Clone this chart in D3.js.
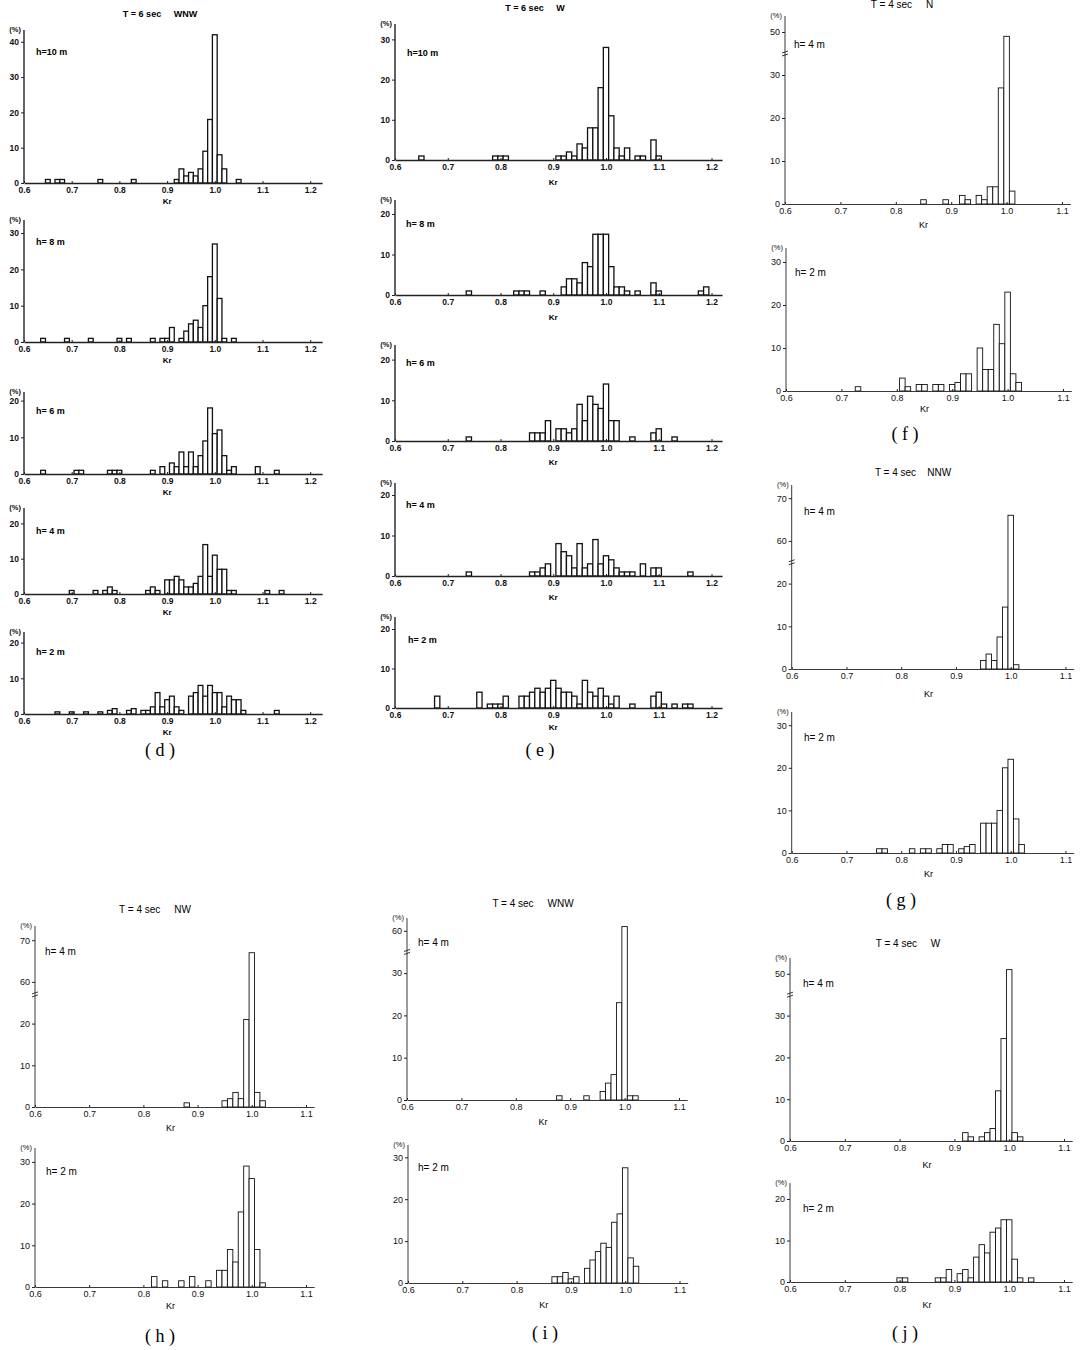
<!DOCTYPE html>
<html>
<head>
<meta charset="utf-8">
<script src="https://cdn.jsdelivr.net/npm/d3@7"></script>
<style>
  body { margin: 0; background: #fff; }
  svg { display: block; font-family: "Liberation Sans", Arial, sans-serif; }
</style>
</head>
<body>
<svg id="chart"></svg>
<script>
const WIDTH = 1082;
const HEIGHT = 1350;
const BIN = 0.01;

// (d) T = 6 sec WNW : [Kr bin centre, %]
const dH10 = [[0.65,1],[0.67,1],[0.68,1],[0.76,1],[0.83,1],[0.92,1],[0.93,4],[0.94,2],[0.95,3],[0.96,2],[0.97,4],[0.98,9],[0.99,18],[1.00,42],[1.01,8],[1.02,4],[1.05,1]];
const dH8 = [[0.64,1],[0.69,1],[0.74,1],[0.80,1],[0.82,1],[0.87,1],[0.89,1],[0.90,1],[0.91,4],[0.93,1],[0.94,3],[0.95,5],[0.96,6],[0.97,4],[0.98,10],[0.99,18],[1.00,27],[1.01,12],[1.02,1],[1.04,1]];
const dH6 = [[0.64,1],[0.71,1],[0.72,1],[0.78,1],[0.79,1],[0.80,1],[0.87,1],[0.89,2],[0.91,3],[0.92,2],[0.93,6],[0.94,2],[0.95,6],[0.96,2],[0.97,5],[0.98,9],[0.99,18],[1.00,11],[1.01,12],[1.02,5],[1.03,1],[1.04,2],[1.09,2],[1.13,1]];
const dH4 = [[0.70,1],[0.75,1],[0.77,1],[0.78,2],[0.79,1],[0.86,1],[0.87,2],[0.88,1],[0.90,4],[0.91,4],[0.92,5],[0.93,4],[0.94,2],[0.95,2],[0.96,3],[0.97,5],[0.98,14],[0.99,5],[1.00,11],[1.01,7],[1.02,7],[1.03,1],[1.04,1],[1.11,1],[1.14,1]];
const dH2 = [[0.67,0.6],[0.70,0.6],[0.73,0.6],[0.76,0.6],[0.78,1],[0.79,1.5],[0.82,1],[0.83,1.5],[0.85,1],[0.86,1],[0.87,2],[0.88,6],[0.89,2],[0.90,4],[0.91,5],[0.92,2],[0.93,1],[0.95,5],[0.96,6],[0.97,8],[0.98,5],[0.99,8],[1.00,6],[1.01,6],[1.02,2],[1.03,5],[1.04,4],[1.05,4],[1.06,1],[1.13,1]];

// (e) T = 6 sec W
const eH10 = [[0.65,1],[0.79,1],[0.80,1],[0.81,1],[0.91,1],[0.92,1],[0.93,2],[0.94,1],[0.95,4],[0.96,3],[0.97,8],[0.98,8],[0.99,18],[1.00,28],[1.01,11],[1.02,3],[1.03,1],[1.04,3],[1.06,1],[1.07,1],[1.09,5],[1.10,1]];
const eH8 = [[0.74,1],[0.83,1],[0.84,1],[0.85,1],[0.88,1],[0.92,2],[0.93,4],[0.94,4],[0.95,3],[0.96,8],[0.97,7],[0.98,15],[0.99,15],[1.00,15],[1.01,7],[1.02,2],[1.03,2],[1.04,1],[1.06,1],[1.09,3],[1.10,1],[1.18,1],[1.19,2]];
const eH6 = [[0.74,1],[0.86,2],[0.87,2],[0.88,2],[0.89,5],[0.91,3],[0.92,3],[0.93,2],[0.94,3],[0.95,9],[0.96,5],[0.97,11],[0.98,9],[0.99,8],[1.00,14],[1.01,5],[1.02,5],[1.05,1],[1.09,2],[1.10,3],[1.13,1]];
const eH4 = [[0.74,1],[0.86,1],[0.87,1],[0.88,2],[0.89,3],[0.91,8],[0.92,6],[0.93,5],[0.94,2],[0.95,8],[0.96,2],[0.97,3],[0.98,9],[0.99,3],[1.00,5],[1.01,4],[1.02,2],[1.03,1],[1.04,1],[1.05,1],[1.07,3],[1.09,2],[1.10,2],[1.16,1]];
const eH2 = [[0.68,3],[0.76,4],[0.78,1],[0.79,1],[0.80,1],[0.81,3],[0.84,3],[0.85,3],[0.86,4],[0.87,5],[0.88,4],[0.89,5],[0.90,7],[0.91,5],[0.92,4],[0.93,4],[0.94,3],[0.95,1],[0.96,7],[0.97,4],[0.98,3],[0.99,5],[1.00,3],[1.01,1],[1.02,3],[1.05,1],[1.09,3],[1.10,4],[1.11,1],[1.13,1],[1.15,1],[1.16,1]];

// (f) T = 4 sec N
const fH4 = [[0.85,1],[0.89,1],[0.92,2],[0.93,1],[0.95,2],[0.96,1],[0.97,4],[0.98,4],[0.99,27],[1.00,49],[1.01,3]];
const fH2 = [[0.73,1],[0.81,3],[0.82,1],[0.84,1.5],[0.85,1.5],[0.87,1.5],[0.88,1.5],[0.90,1.5],[0.91,2],[0.92,4],[0.93,4],[0.95,10],[0.96,5],[0.97,5],[0.98,15.5],[0.99,11],[1.00,23],[1.01,4],[1.02,2]];

// (g) T = 4 sec NNW
const gH4 = [[0.95,2],[0.96,3.5],[0.97,2],[0.98,7.5],[0.99,14.5],[1.00,66],[1.01,1]];
const gH2 = [[0.76,1],[0.77,1],[0.82,1],[0.84,1],[0.85,1],[0.87,1],[0.88,2],[0.89,2],[0.91,1],[0.92,1.5],[0.93,2],[0.95,7],[0.96,7],[0.97,7],[0.98,10],[0.99,20],[1.00,22],[1.01,8],[1.02,2]];

// (h) T = 4 sec NW
const hH4 = [[0.88,1],[0.95,1.5],[0.96,2],[0.97,3.5],[0.98,2],[0.99,21],[1.00,67],[1.01,3.5],[1.02,1.5]];
const hH2 = [[0.82,2.5],[0.84,1.5],[0.87,1.5],[0.89,2.5],[0.92,1.5],[0.94,4],[0.95,4],[0.96,9],[0.97,6],[0.98,18],[0.99,29],[1.00,26],[1.01,9],[1.02,1]];

// (i) T = 4 sec WNW
const iH4 = [[0.88,1],[0.93,1],[0.96,2],[0.97,4],[0.98,6],[0.99,23],[1.00,61],[1.01,1],[1.02,1]];
const iH2 = [[0.87,1.5],[0.88,1.5],[0.89,2.5],[0.90,1],[0.91,1.5],[0.93,3.5],[0.94,5.5],[0.95,7.5],[0.96,9.5],[0.97,8.5],[0.98,14.5],[0.99,16.5],[1.00,27.5],[1.01,6],[1.02,4]];

// (j) T = 4 sec W
const jH4 = [[0.92,2],[0.93,1],[0.95,1],[0.96,2],[0.97,3],[0.98,12],[0.99,24.5],[1.00,51],[1.01,2],[1.02,1]];
const jH2 = [[0.80,1],[0.81,1],[0.87,1],[0.88,1],[0.89,3],[0.91,2],[0.92,3],[0.93,1],[0.94,6],[0.95,9],[0.96,7],[0.97,12],[0.98,13],[0.99,15],[1.00,15],[1.01,5.5],[1.02,1],[1.04,1]];

const ticksLong = [0.6, 0.7, 0.8, 0.9, 1.0, 1.1, 1.2];
const ticksShort = [0.6, 0.7, 0.8, 0.9, 1.0, 1.1];

const titles = [
  { text: "T = 6 sec     WNW", x: 160, y: 15, bold: true },
  { text: "T = 6 sec     W", x: 535, y: 9, bold: true },
  { text: "T = 4 sec     N", x: 902, y: 5 },
  { text: "T = 4 sec    NNW", x: 913, y: 473 },
  { text: "T = 4 sec     NW", x: 155, y: 910 },
  { text: "T = 4 sec     WNW", x: 533, y: 904 },
  { text: "T = 4 sec     W", x: 908, y: 944 }
];

const figLabels = [
  { text: "( d )", x: 160, y: 752 },
  { text: "( e )", x: 540, y: 752 },
  { text: "( f )", x: 905, y: 436 },
  { text: "( g )", x: 901, y: 902 },
  { text: "( h )", x: 160, y: 1338 },
  { text: "( i )", x: 545, y: 1335 },
  { text: "( j )", x: 905, y: 1335 }
];

// layout of each small histogram (pixel placement only)
const plots = [
  { data: dH10, h: "h=10 m", x0: 24, k: 47.7, end: 1.225, xt: ticksLong, base: 183, per10: 35.3, top: 30, yt: [0,10,20,30,40], hx: 36, hy: 53, kr: 21, bold: true },
  { data: dH8, h: "h= 8 m", x0: 24, k: 47.7, end: 1.225, xt: ticksLong, base: 342, per10: 36.3, top: 220, yt: [0,10,20,30], hx: 36, hy: 243, kr: 21, bold: true },
  { data: dH6, h: "h= 6 m", x0: 24, k: 47.7, end: 1.225, xt: ticksLong, base: 474, per10: 36.7, top: 392, yt: [0,10,20], hx: 36, hy: 412, kr: 21, bold: true },
  { data: dH4, h: "h= 4 m", x0: 24, k: 47.7, end: 1.225, xt: ticksLong, base: 594, per10: 35.3, top: 508, yt: [0,10,20], hx: 36, hy: 532, kr: 21, bold: true },
  { data: dH2, h: "h= 2 m", x0: 24, k: 47.7, end: 1.225, xt: ticksLong, base: 714, per10: 35.7, top: 632, yt: [0,10,20], hx: 36, hy: 653, kr: 21, bold: true },

  { data: eH10, h: "h=10 m", x0: 395, k: 52.75, end: 1.22, xt: ticksLong, base: 160, per10: 40.2, top: 24, yt: [0,10,20,30], hx: 407, hy: 54, kr: 25, bold: true },
  { data: eH8, h: "h= 8 m", x0: 395, k: 52.75, end: 1.22, xt: ticksLong, base: 295, per10: 40.5, top: 200, yt: [0,10,20], hx: 406, hy: 225, kr: 25, bold: true },
  { data: eH6, h: "h= 6 m", x0: 395, k: 52.75, end: 1.22, xt: ticksLong, base: 441, per10: 40.7, top: 345, yt: [0,10,20], hx: 406, hy: 364, kr: 24, bold: true },
  { data: eH4, h: "h= 4 m", x0: 395, k: 52.75, end: 1.22, xt: ticksLong, base: 576, per10: 40.5, top: 483, yt: [0,10,20], hx: 406, hy: 506, kr: 24, bold: true },
  { data: eH2, h: "h= 2 m", x0: 395, k: 52.75, end: 1.22, xt: ticksLong, base: 708, per10: 39.5, top: 617, yt: [0,10,20], hx: 408, hy: 641, kr: 22, bold: true },

  { data: fH4, h: "h= 4 m", x0: 785, k: 55.4, end: 1.115, xt: ticksShort, base: 204, per10: 43, top: 16, yt: [0,10,20,30,50], brk: { at: 35, off: 10 }, hx: 794, hy: 45, kr: 24 },
  { data: fH2, h: "h= 2 m", x0: 786, k: 55.4, end: 1.115, xt: ticksShort, base: 391, per10: 43, top: 248, yt: [0,10,20,30], hx: 795, hy: 273, kr: 21 },
  { data: gH4, h: "h= 4 m", x0: 791.7, k: 54.75, end: 1.115, xt: ticksShort, base: 669, per10: 42.7, top: 485, yt: [0,10,20,60,70], brk: { at: 25, off: 30 }, hx: 804, hy: 512, kr: 28 },
  { data: gH2, h: "h= 2 m", x0: 791.7, k: 54.75, end: 1.115, xt: ticksShort, base: 853, per10: 42.6, top: 712, yt: [0,10,20,30], hx: 804, hy: 738, kr: 24 },
  { data: hH4, h: "h= 4 m", x0: 35, k: 54.2, end: 1.115, xt: ticksShort, base: 1107, per10: 41.7, top: 926, yt: [0,10,20,60,70], brk: { at: 27, off: 30 }, hx: 45, hy: 952, kr: 24 },
  { data: hH2, h: "h= 2 m", x0: 35, k: 54.2, end: 1.115, xt: ticksShort, base: 1287, per10: 41.7, top: 1148, yt: [0,10,20,30], hx: 46, hy: 1172, kr: 22 },
  { data: iH4, h: "h= 4 m", x0: 407, k: 54.4, end: 1.115, xt: ticksShort, base: 1100, per10: 42.3, top: 918, yt: [0,10,20,30,60], brk: { at: 35, off: 20 }, hx: 418, hy: 943, kr: 25 },
  { data: iH2, h: "h= 2 m", x0: 408, k: 54.3, end: 1.115, xt: ticksShort, base: 1283, per10: 41.9, top: 1145, yt: [0,10,20,30], hx: 418, hy: 1168, kr: 25 },
  { data: jH4, h: "h= 4 m", x0: 790, k: 54.8, end: 1.115, xt: ticksShort, base: 1141, per10: 41.8, top: 958, yt: [0,10,20,30,50], brk: { at: 35, off: 10 }, hx: 803, hy: 984, kr: 27 },
  { data: jH2, h: "h= 2 m", x0: 790, k: 54.8, end: 1.115, xt: ticksShort, base: 1282, per10: 41.5, top: 1183, yt: [0,10,20], hx: 803, hy: 1209, kr: 26 }
];

const svg = d3.select('#chart').attr('width', WIDTH).attr('height', HEIGHT);
svg.append('rect').attr('width', WIDTH).attr('height', HEIGHT).attr('fill', '#fff');

function makeY(p) {
  const u = p.per10 / 10;
  if (!p.brk) {
    return d3.scaleLinear().domain([0, 100]).range([p.base, p.base - 100 * u]);
  }
  const a = p.brk.at, o = p.brk.off;
  // broken axis: values above a+o are shifted down by o
  return d3.scaleLinear()
    .domain([0, a, a + o, 100])
    .range([p.base, p.base - a * u, p.base - a * u, p.base - (100 - o) * u]);
}

plots.forEach(p => {
  const x = d3.scaleLinear()
    .domain([0.6, p.end])
    .range([p.x0, p.x0 + (p.end - 0.6) * 10 * p.k]);
  const y = makeY(p);
  const g = svg.append('g');
  const weight = p.bold ? 'bold' : 'normal';
  const fs = p.bold ? 8.5 : 9;
  const sw = p.bold ? 1.3 : 0.9;

  // bars
  g.selectAll('rect')
    .data(p.data)
    .join('rect')
    .attr('x', d => x(d[0] - BIN / 2))
    .attr('width', d => x(d[0] + BIN / 2) - x(d[0] - BIN / 2))
    .attr('y', d => y(d[1]))
    .attr('height', d => p.base - y(d[1]))
    .attr('fill', '#fff')
    .attr('stroke', '#111')
    .attr('stroke-width', sw);

  // x axis
  const xAxis = g.append('g')
    .attr('transform', `translate(0, ${p.base})`)
    .call(d3.axisBottom(x).tickValues(p.xt).tickFormat(d3.format('.1f')).tickSize(-2).tickSizeOuter(0));
  xAxis.select('.domain').attr('stroke', '#222').attr('stroke-width', p.bold ? 1.4 : 0.9);
  xAxis.selectAll('.tick line').attr('stroke', '#222');
  xAxis.selectAll('.tick text')
    .attr('y', 4)
    .attr('font-size', fs)
    .attr('font-weight', weight)
    .attr('fill', '#111')
    .attr('font-family', '"Liberation Sans", Arial, sans-serif');

  g.append('text')
    .attr('x', x(p.bold ? 0.9 : 0.85))
    .attr('y', p.base + p.kr)
    .attr('text-anchor', 'middle')
    .attr('font-size', p.bold ? 8 : 9)
    .attr('font-weight', weight)
    .text('Kr');

  // y axis
  const yAxis = g.append('g')
    .attr('transform', `translate(${p.x0}, 0)`)
    .call(d3.axisLeft(y).tickValues(p.yt).tickSize(3).tickSizeOuter(0));
  yAxis.select('.domain').remove();
  yAxis.selectAll('.tick line').attr('stroke', '#222');
  yAxis.selectAll('.tick text')
    .attr('x', -5)
    .attr('font-size', fs)
    .attr('font-weight', weight)
    .attr('fill', '#111')
    .attr('font-family', '"Liberation Sans", Arial, sans-serif');
  g.append('line')
    .attr('x1', p.x0).attr('x2', p.x0)
    .attr('y1', p.base).attr('y2', p.top)
    .attr('stroke', '#222')
    .attr('stroke-width', p.bold ? 1.4 : 0.9);

  if (p.brk) {
    const yb = y(p.brk.at);
    [-1.5, 1.5].forEach(off => {
      g.append('line')
        .attr('x1', p.x0 - 3).attr('x2', p.x0 + 3)
        .attr('y1', yb + off + 1).attr('y2', yb + off - 1)
        .attr('stroke', '#222').attr('stroke-width', 0.9);
    });
  }

  g.append('text')
    .attr('x', p.x0 - 3)
    .attr('y', p.top + 2)
    .attr('text-anchor', 'end')
    .attr('font-size', 7.5)
    .attr('font-weight', weight)
    .attr('fill', '#111')
    .text('(%)');

  g.append('text')
    .attr('x', p.hx)
    .attr('y', p.hy)
    .attr('dominant-baseline', 'middle')
    .attr('font-size', p.bold ? 9 : 10)
    .attr('font-weight', weight)
    .text(p.h);
});

svg.selectAll('.title')
  .data(titles)
  .join('text')
  .attr('class', 'title')
  .attr('x', d => d.x)
  .attr('y', d => d.y)
  .attr('text-anchor', 'middle')
  .attr('dominant-baseline', 'middle')
  .attr('font-size', d => d.bold ? 9 : 10)
  .attr('font-weight', d => d.bold ? 'bold' : 'normal')
  .style('white-space', 'pre')
  .text(d => d.text);

svg.selectAll('.figlabel')
  .data(figLabels)
  .join('text')
  .attr('class', 'figlabel')
  .attr('x', d => d.x)
  .attr('y', d => d.y)
  .attr('text-anchor', 'middle')
  .attr('dominant-baseline', 'middle')
  .attr('font-family', '"Liberation Serif", "DejaVu Serif", serif')
  .attr('font-size', 18)
  .style('white-space', 'pre')
  .text(d => d.text);
</script>
</body>
</html>
